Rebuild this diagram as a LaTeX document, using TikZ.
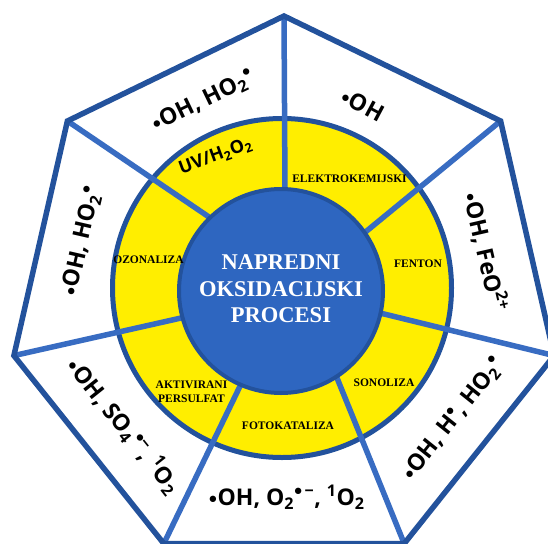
\documentclass[tikz,border=0pt]{standalone}
\usepackage{fontspec}
\setmainfont{Liberation Serif}
\newfontfamily\osans{Open Sans}
\newfontfamily\djv{DejaVu Sans}
\newcommand\ldot{\raisebox{3.6pt}{\djv\fontsize{8.3}{8.3}\selectfont ●}\kern1pt}
\newcommand\supdot{\kern0.5pt\raisebox{11.5pt}{\djv\fontsize{8.3}{8.3}\selectfont ●}}
\definecolor{hepblue}{HTML}{23529C}
\definecolor{spokeblue}{HTML}{386CC2}
\definecolor{ringyellow}{HTML}{FFEE00}
\definecolor{corefill}{HTML}{2E66C0}
\begin{document}
\begin{tikzpicture}[x=1pt,y=-1pt,
  hepline/.style={draw=hepblue, line width=5.5pt, line join=miter},
  spokeline/.style={draw=spokeblue, line width=5.5pt},
  radlabel/.style={font=\osans\bfseries\fontsize{23}{25}\selectfont, inner sep=0pt},
  proclabel/.style={font=\bfseries\fontsize{11.5}{14}\selectfont, inner sep=0pt, align=center},
  corelabel/.style={font=\bfseries\fontsize{22.5}{26.5}\selectfont, text=white, align=center, inner sep=0pt}]
\useasboundingbox (0,0) rectangle (548,543);
\clip (0,0) rectangle (548,543);
% heptagon vertices
\coordinate (v1) at (284,16);
\coordinate (v2) at (500.6,121);
\coordinate (v3) at (554.1,355.6);
\coordinate (v4) at (404.2,543.6);
\coordinate (v5) at (163.8,543.6);
\coordinate (v6) at (13.9,355.6);
\coordinate (v7) at (67.4,121);
% spoke inner ends
\coordinate (s1) at (285,192);
\coordinate (s2) at (363,234);
\coordinate (s3) at (380,313);
\coordinate (s4) at (335,373);
\coordinate (s5) at (243,380);
\coordinate (s6) at (190,316);
\coordinate (s7) at (209,217);
\fill[white] (v1)--(v2)--(v3)--(v4)--(v5)--(v6)--(v7)--cycle;
\node[circle, fill=ringyellow, draw=hepblue, line width=5pt, minimum size=339pt, inner sep=0pt] (ring) at (282,288) {};
\foreach \i in {1,...,7}{\draw[spokeline] (v\i) -- (s\i);}
\node[circle, fill=corefill, draw=hepblue, line width=4pt, minimum size=204pt, inner sep=0pt] (core) at (281,291) {};
\draw[hepline] (v1)--(v2)--(v3)--(v4)--(v5)--(v6)--(v7)--cycle;
% centre text
\node[corelabel] (title) at (281,289) {NAPREDNI\\OKSIDACIJSKI\\PROCESI};
% process labels
\node[proclabel] (elektro) at (349.5,179) {ELEKTROKEMIJSKI};
\node[proclabel] (fenton) at (418,264) {FENTON};
\node[proclabel] (sono) at (384,383) {SONOLIZA};
\node[proclabel] (foto) at (288,426) {FOTOKATALIZA};
\node[proclabel] (persulf) at (191.5,392) {AKTIVIRANI\\PERSULFAT};
\node[proclabel] (ozon) at (148.5,260) {OZONALIZA};
\node[font=\osans\bfseries\fontsize{18}{20}\selectfont, inner sep=0pt, rotate=20] (uv) at (215.5,156.5) {UV/H\textsubscript{2}O\textsubscript{2}};
% radical labels
\node[radlabel, rotate=25.7] (r1) at (203,101) {\ldot OH, HO\textsubscript{2}\supdot};
\node[radlabel, rotate=-28] (r2) at (363,105) {\ldot OH};
\node[radlabel, rotate=-77.1] (r3) at (486,252) {\ldot OH, FeO\textsuperscript{2+}};
\node[radlabel, rotate=51.4] (r4) at (453,419) {\ldot OH, H\supdot, HO\textsubscript{2}\supdot};
\node[radlabel] (r5) at (287,497) {\ldot OH, O\textsubscript{2}\supdot\textsuperscript{\,−}, \textsuperscript{1}O\textsubscript{2}};
\node[radlabel, rotate=-51.4] (r6) at (124,426) {\ldot OH, SO\textsubscript{4}\supdot\textsuperscript{−}, \textsuperscript{1}O\textsubscript{2}};
\node[radlabel, rotate=77.1] (r7) at (82,241) {\ldot OH, HO\textsubscript{2}\supdot};
\end{tikzpicture}
\end{document}
